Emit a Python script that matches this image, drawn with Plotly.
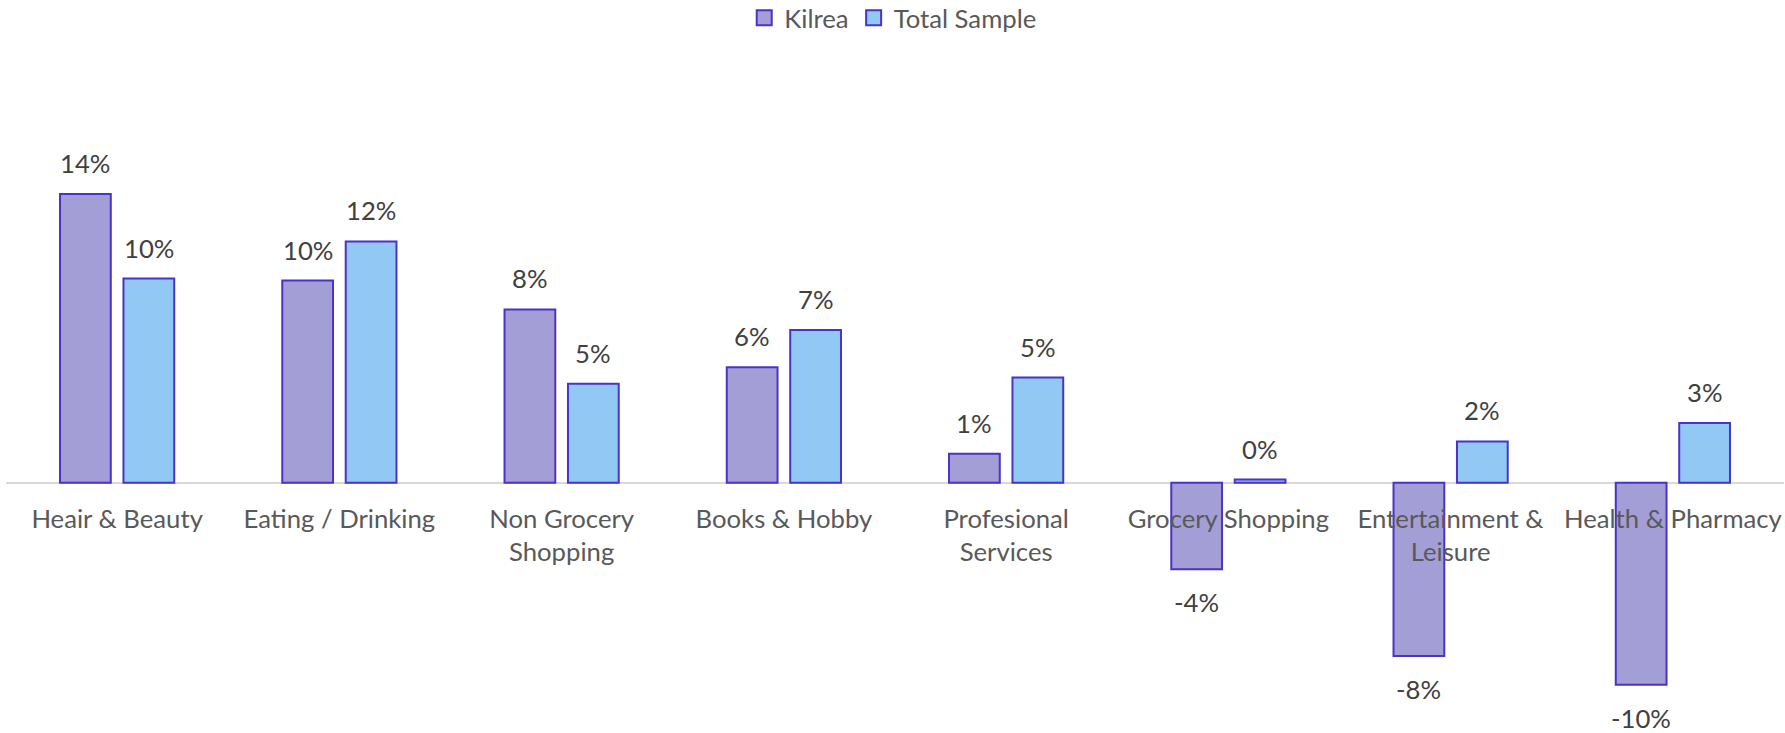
import plotly.graph_objects as go

# Change in share of visits by category (percent)
categories = [
    "Heair & Beauty",
    "Eating / Drinking",
    "Non Grocery<br>Shopping",
    "Books & Hobby",
    "Profesional<br>Services",
    "Grocery Shopping",
    "Entertainment &<br>Leisure",
    "Health & Pharmacy",
]
kilrea = [14.0, 9.8, 8.4, 5.6, 1.4, -4.2, -8.4, -9.8]
total_sample = [9.9, 11.7, 4.8, 7.4, 5.1, 0.15, 2.0, 2.9]

series_names = ["Kilrea", "Total Sample"]
fills = ["#A39ED5", "#91C8F4"]
outline = "#4A33C8"

FONT = "Lato"
FS = 25.7
Y_RANGE = [-12.14, 20.5]

fig = go.Figure()
for name, vals, col in zip(series_names, [kilrea, total_sample], fills):
    fig.add_trace(go.Bar(
        name=name, x=categories, y=vals,
        marker=dict(color=col, line=dict(color=outline, width=2)),
        cliponaxis=False, showlegend=False,
    ))

# legend entries with larger square swatches
for name, col in zip(series_names, fills):
    fig.add_trace(go.Scatter(
        name=name, x=[None], y=[None], mode="markers",
        marker=dict(symbol="square", size=15, color=col,
                    line=dict(color=outline, width=2)),
        showlegend=True,
    ))

# value labels above positive bars, below negative ones
annotations = []
n = len(series_names)
for i, vals in enumerate([kilrea, total_sample]):
    offset = (i - (n - 1) / 2)
    for j, v in enumerate(vals):
        pos = v >= 0
        annotations.append(dict(
            x=j, y=v, xref="x", yref="y",
            text=f"{round(v):d}%",
            showarrow=False,
            xshift=offset * 63.4,
            yanchor="bottom" if pos else "top",
            yshift=14 if pos else -16,
            font=dict(family=FONT, size=FS, color="#404040"),
        ))

axis_pos = (0 - Y_RANGE[0]) / (Y_RANGE[1] - Y_RANGE[0])

fig.update_layout(
    width=1785, height=733,
    margin=dict(l=6, r=1, t=60, b=0),
    paper_bgcolor="white", plot_bgcolor="white",
    font=dict(family=FONT, size=FS, color="#595959"),
    barmode="group", bargap=0.429, bargroupgap=0.2,
    showlegend=True,
    legend=dict(
        orientation="h", x=0.499, xanchor="center",
        y=1 - 18 / 733, yanchor="middle", yref="container",
        font=dict(family=FONT, size=FS, color="#595959"),
        itemsizing="trace", traceorder="normal", itemwidth=30,
    ),
    xaxis=dict(
        anchor="free", position=axis_pos,
        showline=False, showgrid=False, zeroline=False,
        ticks="outside", ticklen=13, tickcolor="rgba(0,0,0,0)",
        tickfont=dict(family=FONT, size=FS, color="#595959"),
    ),
    yaxis=dict(
        range=Y_RANGE, showgrid=False, showticklabels=False,
        zeroline=True, zerolinecolor="#D9D9D9", zerolinewidth=2,
    ),
    annotations=annotations,
)

fig.write_html("out.html")
